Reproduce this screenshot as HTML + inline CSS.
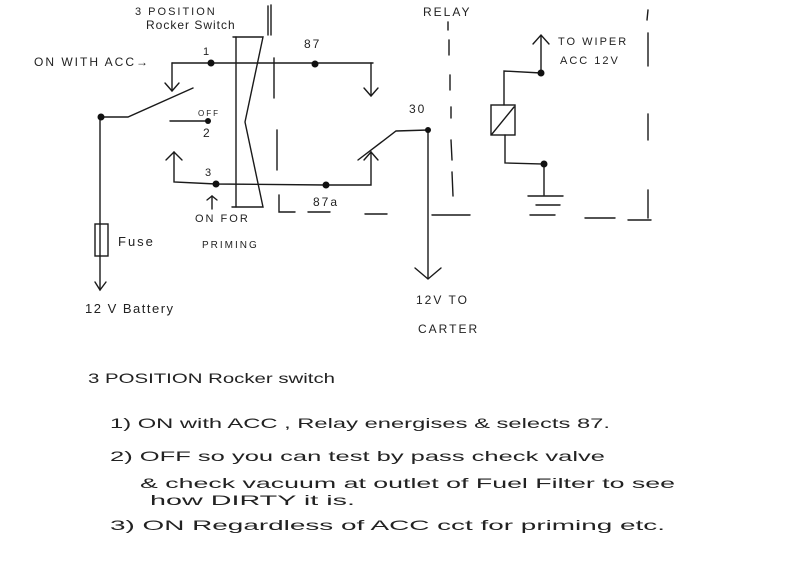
<!DOCTYPE html>
<html><head><meta charset="utf-8"><style>
html,body{margin:0;padding:0;background:#fff;}
svg{display:block}
text{font-family:"Liberation Sans",sans-serif;fill:#222;}
</style></head><body>
<svg width="799" height="581" viewBox="0 0 799 581" xmlns="http://www.w3.org/2000/svg">
<g stroke="#1a1a1a" stroke-width="1.4" fill="none" stroke-linecap="round">
<line x1="172" y1="63" x2="373" y2="63"/>
<polyline points="172,63 172,90"/>
<polyline points="165,83 172,91 179,83"/>
<polyline points="371,63 371,95"/>
<polyline points="364,88 371,96 378,88"/>
<polyline points="101,117 128,117 193,88"/>
<line x1="170" y1="121" x2="208" y2="121"/>
<polyline points="174,152 174,182 216,184 326,185 371,185 371,152"/>
<polyline points="166,160 174,152 182,160"/>
<polyline points="364,160 371,152 378,160"/>
<polyline points="358,160 396,131 428,130 428,278"/>
<polyline points="415,268 428,279 441,268"/>
<line x1="100" y1="117" x2="100" y2="290"/>
<rect x="95" y="224" width="13" height="32"/>
<polyline points="95,282 100,290 106,282"/>
<polyline points="233,37 263,37 245,122 263,207 232,207"/>
<line x1="236" y1="37" x2="236" y2="207"/>
<line x1="268" y1="6" x2="268" y2="35"/>
<line x1="271" y1="5" x2="271" y2="35"/>
<polyline points="207,200 212,196 217,200"/>
<line x1="212" y1="196" x2="212" y2="209"/>
<line x1="274" y1="58" x2="274" y2="98"/>
<line x1="277" y1="130" x2="277" y2="170"/>
<polyline points="279,195 279,212 295,212"/>
<line x1="308" y1="212" x2="330" y2="212"/>
<line x1="365" y1="214" x2="387" y2="214"/>
<line x1="432" y1="215" x2="470" y2="215"/>
<line x1="448" y1="22" x2="448" y2="30"/>
<line x1="449" y1="40" x2="449" y2="55"/>
<line x1="450" y1="75" x2="450" y2="90"/>
<line x1="451" y1="107" x2="451" y2="118"/>
<line x1="451" y1="140" x2="452" y2="160"/>
<line x1="452" y1="172" x2="453" y2="196"/>
<polyline points="541,73 541,36"/>
<polyline points="533,44 541,35 549,44"/>
<polyline points="541,73 504,71 504,105"/>
<rect x="491" y="105" width="24" height="30"/>
<line x1="492" y1="134" x2="514" y2="107"/>
<polyline points="505,135 505,163 544,164 544,195"/>
<line x1="528" y1="196" x2="563" y2="196"/>
<line x1="536" y1="205" x2="560" y2="205"/>
<line x1="530" y1="215" x2="555" y2="215"/>
<line x1="585" y1="218" x2="615" y2="218"/>
<line x1="628" y1="220" x2="651" y2="220"/>
<line x1="648" y1="33" x2="648" y2="66"/>
<line x1="648" y1="114" x2="648" y2="140"/>
<line x1="648" y1="190" x2="648" y2="218"/>
<line x1="648" y1="10" x2="647" y2="20"/>
</g>
<g fill="#111">
<circle cx="211" cy="63" r="3.5"/><circle cx="315" cy="64" r="3.5"/>
<circle cx="101" cy="117" r="3.5"/><circle cx="208" cy="121" r="3"/>
<circle cx="216" cy="184" r="3.5"/><circle cx="326" cy="185" r="3.5"/>
<circle cx="428" cy="130" r="3"/><circle cx="541" cy="73" r="3.5"/>
<circle cx="544" cy="164" r="3.5"/>
</g>
<g font-size="11" letter-spacing="2">
<text x="135" y="15">3 POSITION</text>
<text x="146" y="29" letter-spacing="1" font-size="12">Rocker Switch</text>
<text x="34" y="66" font-size="12">ON WITH ACC→</text>
<text x="203" y="55">1</text>
<text x="304" y="48" font-size="12">87</text>
<text x="198" y="116" font-size="8">OFF</text>
<text x="203" y="137" font-size="12">2</text>
<text x="205" y="176">3</text>
<text x="195" y="222">ON FOR</text>
<text x="202" y="248" font-size="10">PRIMING</text>
<text x="313" y="206" font-size="12">87a</text>
<text x="118" y="246" font-size="13">Fuse</text>
<text x="85" y="313" font-size="13" letter-spacing="1.5">12 V Battery</text>
<text x="423" y="16" font-size="12">RELAY</text>
<text x="409" y="113" font-size="12">30</text>
<text x="416" y="304" font-size="12">12V TO</text>
<text x="418" y="333" font-size="12">CARTER</text>
<text x="558" y="45">TO WIPER</text>
<text x="560" y="64">ACC 12V</text>
</g>
<g font-size="14">
<text x="88" y="383" textLength="247" lengthAdjust="spacingAndGlyphs">3 POSITION Rocker switch</text>
<text x="110" y="428" textLength="500" lengthAdjust="spacingAndGlyphs">1)  ON  with ACC , Relay energises &amp; selects 87.</text>
<text x="110" y="461" textLength="495" lengthAdjust="spacingAndGlyphs">2)  OFF  so you can test  by pass check valve</text>
<text x="140" y="488" textLength="535" lengthAdjust="spacingAndGlyphs">&amp; check vacuum at outlet of Fuel Filter to see</text>
<text x="150" y="505" textLength="205" lengthAdjust="spacingAndGlyphs">how DIRTY it is.</text>
<text x="110" y="530" textLength="555" lengthAdjust="spacingAndGlyphs">3)  ON  Regardless of ACC cct for priming etc.</text>
</g>
</svg>
</body></html>
